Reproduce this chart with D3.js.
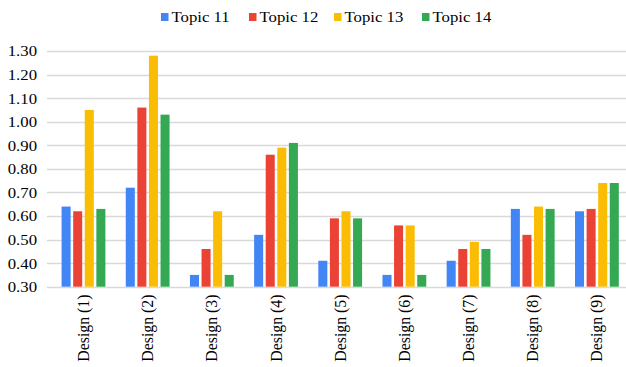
<!DOCTYPE html>
<html>
<head>
<meta charset="utf-8">
<script src="https://cdn.jsdelivr.net/npm/d3@7"></script>
<style>
  html, body { margin: 0; padding: 0; background: #fff; }
  svg { display: block; }
</style>
</head>
<body>
<svg id="chart" width="626" height="367" font-family="Liberation Serif"></svg>
<script>
// Categories and series
const designs = ["Design (1)", "Design (2)", "Design (3)", "Design (4)", "Design (5)",
                 "Design (6)", "Design (7)", "Design (8)", "Design (9)"];
const seriesNames = ["Topic 11", "Topic 12", "Topic 13", "Topic 14"];
const seriesColors = ["#4285f4", "#ea4335", "#fbbc04", "#34a853"];

const topic11 = [0.64, 0.72, 0.35, 0.52, 0.41, 0.35, 0.41, 0.63, 0.62];
const topic12 = [0.62, 1.06, 0.46, 0.86, 0.59, 0.56, 0.46, 0.52, 0.63];
const topic13 = [1.05, 1.28, 0.62, 0.89, 0.62, 0.56, 0.49, 0.64, 0.74];
const topic14 = [0.63, 1.03, 0.35, 0.91, 0.59, 0.35, 0.46, 0.63, 0.74];

const yTicks = [0.30, 0.40, 0.50, 0.60, 0.70, 0.80, 0.90, 1.00, 1.10, 1.20, 1.30];

const FONT = "Liberation Serif";
const FONT_SIZE = 15.5;
const WIDEN = 1.08; // slight horizontal stretch of the upright labels

const seriesValues = [topic11, topic12, topic13, topic14];
const rows = designs.map((d, i) => ({
  design: d,
  values: seriesNames.map((s, k) => ({ key: s, value: seriesValues[k][i], color: seriesColors[k] }))
}));

const svg = d3.select("#chart");

const plotLeft = 51.4, plotRight = 629, plotTop = 51, plotBottom = 286.7;

const x = d3.scaleBand().domain(designs).range([plotLeft, plotRight]).padding(0);
const xInner = d3.scaleBand().domain(seriesNames).range([0, x.bandwidth()])
  .paddingInner(0.22).paddingOuter(0.88);
const y = d3.scaleLinear().domain([0.3, 1.3]).range([plotBottom, plotTop]);

// Horizontal gridlines
svg.append("g")
  .selectAll("line")
  .data(yTicks)
  .join("line")
  .attr("x1", 47).attr("x2", 626)
  .attr("y1", d => Math.round(y(d)) + 0.5)
  .attr("y2", d => Math.round(y(d)) + 0.5)
  .attr("stroke", "#d9d9d9")
  .attr("stroke-width", 1.3);

// Y axis labels
const yAxis = d3.axisLeft(y).tickValues(yTicks).tickFormat(d3.format(".2f")).tickSize(0).tickPadding(0);
const gy = svg.append("g").attr("transform", "translate(37,0)").call(yAxis);
gy.attr("font-family", FONT).attr("font-size", FONT_SIZE);
gy.select(".domain").remove();
gy.selectAll(".tick text")
  .attr("fill", "#000")
  .attr("transform", `scale(${WIDEN},1)`);

// Bars
const groups = svg.append("g")
  .selectAll("g")
  .data(rows)
  .join("g")
  .attr("transform", d => `translate(${x(d.design)},0)`);

groups.selectAll("rect")
  .data(d => d.values)
  .join("rect")
  .attr("x", d => xInner(d.key))
  .attr("width", xInner.bandwidth())
  .attr("y", d => y(d.value))
  .attr("height", d => y(0.3) - y(d.value))
  .attr("fill", d => d.color);

// Rotated category labels
svg.append("g")
  .attr("font-family", FONT)
  .attr("font-size", 15.8)
  .selectAll("text")
  .data(designs)
  .join("text")
  .attr("transform", d => `translate(${x(d) + x.bandwidth() / 2},294.5) rotate(-90)`)
  .attr("text-anchor", "end")
  .attr("dy", "0.35em")
  .attr("fill", "#000")
  .text(d => d);

// Legend
const legendX = [161, 249, 334, 422];
const legend = svg.append("g")
  .attr("font-family", FONT)
  .attr("font-size", FONT_SIZE)
  .selectAll("g")
  .data(seriesNames)
  .join("g")
  .attr("transform", (d, i) => `translate(${legendX[i]},17)`);
legend.append("rect")
  .attr("x", 0).attr("y", -4)
  .attr("width", 7.5).attr("height", 8)
  .attr("fill", (d, i) => seriesColors[i]);
legend.append("text")
  .attr("transform", `translate(10.5,0) scale(${WIDEN},1)`)
  .attr("dy", "0.35em")
  .attr("fill", "#000")
  .text(d => d);
</script>
</body>
</html>
